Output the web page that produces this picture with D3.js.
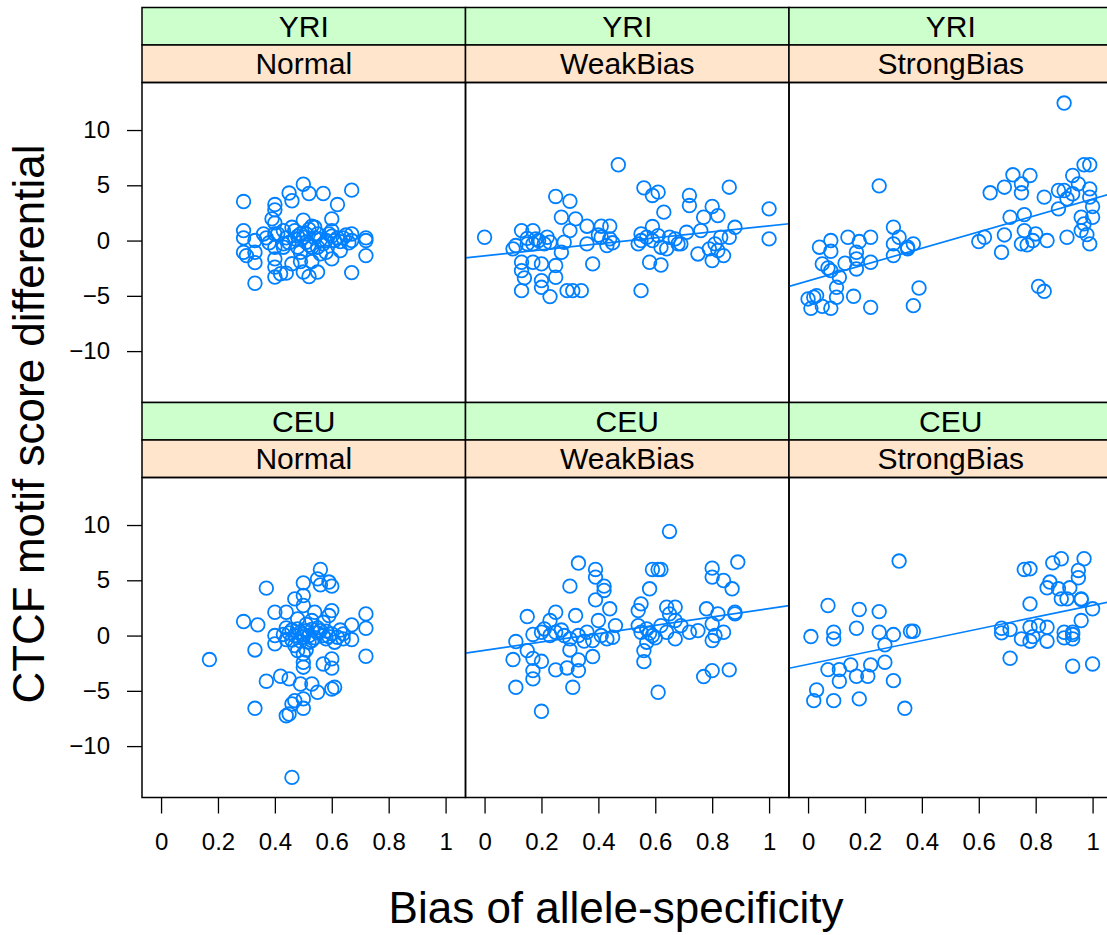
<!DOCTYPE html>
<html>
  <head>
    <meta charset="utf-8" />
    <title>CTCF motif score vs allele-specificity</title>
    <style>
      body { margin: 0; background: #fff; }
      svg { font-family: "Liberation Sans", Arial, Helvetica, sans-serif; }
      .pt { fill: none; stroke: #0080ff; stroke-width: 1.8px; }
      .fit { stroke: #0080ff; stroke-width: 1.7px; }
      .frame { fill: none; stroke: #000; stroke-width: 1.5px; }
    </style>
  </head>
  <body>
    <svg id="chart"></svg>

    <script src="https://d3js.org/d3.v7.min.js"></script>
    <script>
      const populations = ["YRI", "CEU"];
      const biasGroups = ["Normal", "WeakBias", "StrongBias"];
      const xTicks = [0, 0.2, 0.4, 0.6, 0.8, 1];
      const yTicks = [-10, -5, 0, 5, 10];

      // [bias, motif score differential]
      const yriNormal = [
        [0.29,3.53],[0.29,0.9],[0.29,0.24],[0.29,-1.06],[0.30,-1.36],[0.33,0],[0.33,-1.06],[0.33,-2.0],
        [0.33,-3.86],[0.36,0.6],[0.37,0.24],[0.39,1.96],[0.40,3.26],[0.40,2.78],[0.40,1.6],[0.40,0.6],
        [0.40,-0.6],[0.40,-1.66],[0.40,-2.4],[0.40,-3.3],[0.42,-3.0],[0.44,-2.95],[0.45,4.3],[0.46,3.6],
        [0.43,0.9],[0.43,-0.3],[0.46,1.2],[0.46,-2.1],[0.49,-1.9],[0.50,5.1],[0.52,4.26],[0.50,1.84],
        [0.49,0.6],[0.51,-0.15],[0.50,-2.85],[0.52,-3.25],[0.55,-2.85],[0.53,-1.9],[0.53,1.3],[0.55,0.6],
        [0.57,4.26],[0.58,-1.06],[0.60,1.96],[0.60,0.9],[0.60,-1.66],[0.62,3.26],[0.63,-0.9],[0.67,4.56],
        [0.67,0.6],[0.67,0],[0.67,-2.9],[0.72,0.24],[0.72,0],[0.72,-1.36],[0.47,0.15],[0.48,-0.6],
        [0.51,0.6],[0.53,-0.6],[0.54,0.24],[0.58,0],[0.59,0.6],[0.61,0],[0.62,0.24],[0.64,0.24],
        [0.44,0.24],[0.41,0.6],[0.43,-0.6],[0.49,-1.06],[0.55,-0.6],[0.54,1.2],[0.45,-0.2],[0.47,0.9],
        [0.50,0.3],[0.52,-0.4],[0.56,0.1],[0.57,-0.3],[0.60,0.4],[0.63,-0.1],[0.65,0.5],[0.66,-0.2],
        [0.48,0.4],[0.52,1.0],[0.56,-1.2],[0.38,-0.2]
      ];
      const yriWeak = [
        [0.0,0.3],[0.10,-0.75],[0.11,-0.45],[0.13,0.9],[0.13,-1.96],[0.13,-2.72],[0.13,-4.53],[0.14,-3.38],
        [0.15,-0.3],[0.17,0.9],[0.17,-1.96],[0.17,-0.3],[0.18,0.15],[0.20,-2.11],[0.20,-3.62],[0.20,-4.23],
        [0.23,-5.07],[0.21,-0.3],[0.23,-0.15],[0.25,3.99],[0.25,-2.26],[0.25,-3.32],[0.27,2.11],[0.27,-1.06],
        [0.28,-0.15],[0.30,0.9],[0.30,3.56],[0.29,-4.53],[0.31,-4.53],[0.34,-4.53],[0.32,1.96],[0.36,1.3],
        [0.36,-0.3],[0.38,-2.11],[0.41,1.3],[0.44,1.3],[0.41,0.3],[0.43,-0.45],[0.44,0.15],[0.47,6.86],
        [0.55,0.6],[0.56,4.77],[0.59,4.08],[0.61,4.38],[0.59,1.27],[0.63,2.57],[0.55,-4.53],[0.58,-1.96],
        [0.62,-2.21],[0.54,-0.3],[0.62,-0.6],[0.65,0.3],[0.69,-0.3],[0.72,4.08],[0.72,3.17],[0.71,0.75],
        [0.75,-1.21],[0.76,0.9],[0.77,2.11],[0.80,3.08],[0.82,2.26],[0.80,-1.81],[0.84,-1.36],[0.81,-0.3],
        [0.83,0.3],[0.86,4.83],[0.88,1.2],[0.86,0.3],[1.0,2.87],[1.0,0.15],[0.57,0.3],[0.59,0],
        [0.61,0.45],[0.67,0.15],[0.68,-0.3],[0.55,0],[0.64,-0.75],[0.82,-0.9],[0.79,-0.75],[0.19,0.0],
        [0.22,0.3],[0.15,0.2],[0.40,0.5],[0.45,-0.2]
      ];
      const yriStrong = [
        [0.90,12.44],[0.25,4.95],[0.04,-0.6],[0.08,0],[0.08,-0.97],[0.14,0.3],[0.18,-0.09],[0.22,0.3],
        [0.17,-1.06],[0.17,-1.66],[0.17,-2.57],[0.13,-2.05],[0.22,-1.96],[0.05,-2.11],[0.07,-2.48],[0.08,-2.72],
        [0.11,-3.32],[0.10,-4.23],[0.10,-5.13],[0.16,-5.04],[0.0,-5.28],[0.02,-5.13],[0.03,-4.98],[0.01,-6.13],
        [0.05,-5.95],[0.08,-6.13],[0.22,-6.04],[0.30,1.21],[0.30,-0.3],[0.30,-1.36],[0.32,0.3],[0.35,-0.6],
        [0.37,-0.3],[0.35,-0.75],[0.39,-4.29],[0.37,-5.89],[0.60,-0.09],[0.62,0.3],[0.64,4.32],[0.68,-1.06],
        [0.69,4.83],[0.69,0.51],[0.72,5.95],[0.75,5.13],[0.75,4.32],[0.78,5.89],[0.71,2.11],[0.76,2.35],
        [0.76,0.9],[0.75,-0.3],[0.77,-0.39],[0.79,0],[0.80,0.6],[0.81,-4.14],[0.83,-4.59],[0.84,0],
        [0.83,3.93],[0.88,2.87],[0.88,4.53],[0.90,4.53],[0.91,0.3],[0.93,5.89],[0.95,5.13],[0.97,6.86],
        [0.99,6.86],[0.99,4.68],[0.99,3.93],[1.0,3.08],[1.0,2.11],[0.96,2.11],[0.97,1.51],[0.96,0.9],
        [0.98,0.54],[0.99,-0.3],[0.93,4.23],[0.91,3.78]
      ];
      const ceuNormal = [
        [0.17,-2.17],[0.29,1.27],[0.34,0.97],[0.33,-1.3],[0.33,-6.58],[0.37,4.29],[0.37,-4.13],[0.40,2.11],
        [0.40,0],[0.40,-0.75],[0.42,-3.68],[0.44,2.11],[0.45,-3.92],[0.46,-12.83],[0.44,-7.25],[0.45,-7.1],
        [0.46,-6.19],[0.47,-5.89],[0.50,-5.73],[0.50,-6.58],[0.49,-4.38],[0.53,-4.38],[0.55,-5.13],[0.47,3.32],
        [0.50,4.77],[0.50,3.62],[0.50,2.72],[0.55,5.13],[0.56,5.98],[0.56,4.59],[0.59,4.84],[0.60,4.47],
        [0.54,2.11],[0.60,2.26],[0.59,1.81],[0.57,-2.57],[0.60,-2.11],[0.60,-2.95],[0.60,-4.83],[0.61,-4.68],
        [0.67,0.97],[0.67,-0.36],[0.72,1.96],[0.72,0.66],[0.72,-1.87],[0.50,-2.86],[0.50,-2.42],[0.50,-1.66],
        [0.51,-1.3],[0.43,0.1],[0.44,-0.36],[0.45,0.24],[0.47,0],[0.48,0.6],[0.50,-0.15],[0.51,0.45],
        [0.52,0],[0.53,-0.45],[0.55,0.24],[0.57,0],[0.58,-0.3],[0.60,0.15],[0.62,-0.15],[0.64,0.15],
        [0.64,-0.3],[0.48,1.51],[0.53,1.36],[0.57,1.2],[0.47,-0.9],[0.48,-1.36],[0.46,0.5],[0.49,0.3],
        [0.52,-0.6],[0.55,0.7],[0.58,0.4],[0.61,-0.6],[0.44,0.7],[0.49,-0.5],[0.51,1.0],[0.54,-0.2],
        [0.56,0.45],[0.59,-0.1],[0.63,0.5],[0.46,-0.4],[0.50,0.1],[0.53,0.55]
      ];
      const ceuWeak = [
        [0.65,9.42],[0.33,6.56],[0.39,5.98],[0.39,5.29],[0.30,4.47],[0.42,4.47],[0.42,4.08],[0.39,3.23],
        [0.44,2.42],[0.59,5.98],[0.61,5.98],[0.62,5.98],[0.58,4.23],[0.55,2.87],[0.54,2.26],[0.64,2.56],
        [0.67,2.56],[0.80,6.1],[0.80,5.29],[0.84,4.98],[0.89,6.65],[0.87,4.23],[0.78,2.42],[0.82,1.96],
        [0.88,1.96],[0.88,2.11],[0.15,1.72],[0.11,-0.54],[0.15,-1.36],[0.10,-2.17],[0.11,-4.68],[0.17,-2.06],
        [0.17,-3.17],[0.17,-3.92],[0.20,-2.33],[0.20,-6.85],[0.23,1.36],[0.25,2.11],[0.25,-3.1],[0.29,-2.93],
        [0.31,-4.68],[0.32,1.81],[0.30,-1.3],[0.33,-2.2],[0.33,-3.17],[0.38,-1.9],[0.40,1.36],[0.46,0.9],
        [0.56,-2.36],[0.56,-1.36],[0.61,-5.13],[0.77,-3.71],[0.80,-3.17],[0.86,-3.1],[0.17,0.1],[0.20,0.3],
        [0.23,0],[0.25,0.3],[0.28,0],[0.30,-0.3],[0.33,0],[0.36,0.3],[0.38,-0.45],[0.41,0],
        [0.43,-0.3],[0.45,-0.15],[0.54,0.9],[0.55,0.3],[0.57,0.6],[0.59,0],[0.57,-0.6],[0.62,0.9],
        [0.64,0.3],[0.67,-0.3],[0.69,0.9],[0.72,0.3],[0.75,0.45],[0.80,1.05],[0.81,0],[0.84,0.3],
        [0.80,-0.45],[0.65,1.96],[0.67,1.36],[0.21,0.6],[0.27,0.5],[0.35,-0.5],[0.58,0.2],[0.60,-0.2]
      ];
      const ceuStrong = [
        [0.32,6.74],[0.07,2.72],[0.18,2.36],[0.25,2.17],[0.01,-0.09],[0.09,0.3],[0.09,-0.3],[0.17,0.66],
        [0.25,0.3],[0.30,0.09],[0.27,-0.84],[0.36,0.39],[0.37,0.39],[0.27,-2.41],[0.22,-2.65],[0.15,-2.65],
        [0.07,-3.08],[0.11,-3.08],[0.11,-4.13],[0.17,-3.68],[0.21,-3.68],[0.30,-4.08],[0.03,-4.92],[0.02,-5.89],
        [0.09,-5.89],[0.18,-5.73],[0.34,-6.58],[0.68,0.66],[0.68,0.24],[0.71,0.54],[0.71,-2.05],[0.75,-0.3],
        [0.78,-0.51],[0.78,0.75],[0.81,0.9],[0.84,0.75],[0.84,-0.51],[0.79,-0.1],[0.76,5.98],[0.78,6.04],
        [0.78,2.87],[0.86,6.58],[0.89,6.95],[0.84,4.32],[0.85,4.84],[0.88,4.23],[0.89,3.32],[0.91,3.32],
        [0.92,4.32],[0.95,5.23],[0.95,5.89],[0.97,6.95],[0.96,3.32],[0.96,3.26],[1.0,2.42],[0.96,1.36],
        [0.90,0.3],[0.90,-0.21],[0.93,0.3],[0.93,-0.3],[0.93,0.09],[0.93,-2.77],[1.0,-2.57]
      ];

      // fitted lines [intercept, slope] per panel, null = no line (Normal)
      const yriFits = [null, [-1.38, 2.71], [-3.65, 7.4]];
      const ceuFits = [null, [-1.34, 3.78], [-2.6, 5.34]];

      const panelData = [
        [yriNormal, yriWeak, yriStrong],
        [ceuNormal, ceuWeak, ceuStrong]
      ];
      const panelFits = [yriFits, ceuFits];

      const width = 1107;
      const height = 935;
      const colLeft = [142, 465.5, 789];
      const panelW = 323.5;
      const stripH = 37.5;
      const panelH = 320;
      const rowTop = [7.5, 402.5];

      const x = d3.scaleLinear().domain([-0.067, 1.07]).range([0, panelW]);
      const y = d3.scaleLinear().domain([-14.65, 14.3]).range([panelH, 0]);
      const fmtY = (d) => (d < 0 ? "\u2212" + Math.abs(d) : String(d));

      const svg = d3.select("#chart").attr("width", width).attr("height", height);

      svg.append("defs").append("clipPath").attr("id", "panel-clip")
        .append("rect").attr("width", panelW).attr("height", panelH);

      populations.forEach((pop, r) => {
        biasGroups.forEach((grp, c) => {
          const top = rowTop[r];
          const g = svg.append("g").attr("transform", `translate(${colLeft[c]},${top})`);

          // strips: outer (population) green, inner (bias group) peach
          g.append("rect").attr("width", panelW).attr("height", stripH)
            .attr("class", "frame").style("fill", "#ccffcc");
          g.append("text").attr("x", panelW / 2).attr("y", stripH / 2 + 10.5)
            .attr("text-anchor", "middle").attr("font-size", 30).text(pop);
          g.append("rect").attr("y", stripH).attr("width", panelW).attr("height", stripH)
            .attr("class", "frame").style("fill", "#ffe5cc");
          g.append("text").attr("x", panelW / 2).attr("y", stripH * 1.5 + 10.5)
            .attr("text-anchor", "middle").attr("font-size", 30).text(grp);

          const p = g.append("g").attr("transform", `translate(0,${stripH * 2})`);
          const pts = panelData[r][c];
          const inner = p.append("g").attr("clip-path", "url(#panel-clip)");

          inner.selectAll("circle").data(pts).join("circle")
            .attr("class", "pt")
            .attr("cx", (d) => x(d[0]))
            .attr("cy", (d) => y(d[1]))
            .attr("r", 6.8);

          const fit = panelFits[r][c];
          if (fit) {
            const [x0, x1] = x.domain();
            inner.append("line").attr("class", "fit")
              .attr("x1", x(x0)).attr("y1", y(fit[0] + fit[1] * x0))
              .attr("x2", x(x1)).attr("y2", y(fit[0] + fit[1] * x1));
          }

          p.append("rect").attr("class", "frame").attr("width", panelW).attr("height", panelH);

          if (c === 0) {
            const ya = p.append("g").call(d3.axisLeft(y).tickValues(yTicks).tickFormat(fmtY)
              .tickSizeOuter(0).tickSize(15).tickPadding(17));
            ya.select(".domain").remove();
            ya.selectAll("text").attr("font-size", 24).attr("fill", "#000");
            ya.selectAll("line").attr("stroke", "#000").attr("stroke-width", 1.3);
          }
          if (r === populations.length - 1) {
            const xa = p.append("g").attr("transform", `translate(0,${panelH})`)
              .call(d3.axisBottom(x).tickValues(xTicks).tickFormat((d) => String(d))
                .tickSizeOuter(0).tickSize(16).tickPadding(19));
            xa.select(".domain").remove();
            xa.selectAll("text").attr("font-size", 24).attr("fill", "#000");
            xa.selectAll("line").attr("stroke", "#000").attr("stroke-width", 1.3);
          }
        });
      });
      svg.selectAll("g[font-family]").attr("font-family", null);

      svg.append("text")
        .attr("transform", "translate(44,424) rotate(-90)")
        .attr("text-anchor", "middle").attr("font-size", 44)
        .text("CTCF motif score differential");

      svg.append("text")
        .attr("x", 616).attr("y", 923)
        .attr("text-anchor", "middle").attr("font-size", 44)
        .text("Bias of allele-specificity");
    </script>
  </body>
</html>
